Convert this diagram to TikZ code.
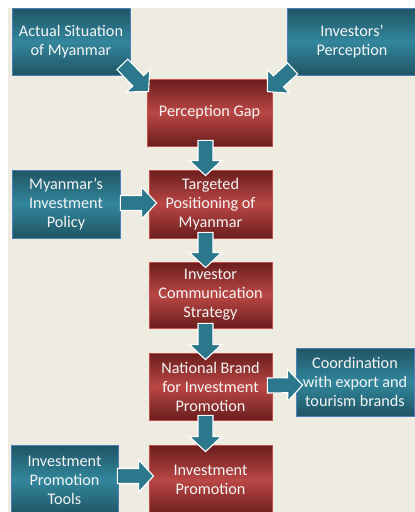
\documentclass[tikz,border=0pt]{standalone}
\usepackage{fontspec}
\setmainfont{Carlito}
\usetikzlibrary{calc}
\definecolor{bgbeige}{HTML}{EEEBE1}
\definecolor{tealdark}{HTML}{1F5564}
\definecolor{teallight}{HTML}{32869C}
\definecolor{tealedge}{HTML}{4F7FB8}
\definecolor{reddark}{HTML}{6A1E1D}
\definecolor{redlight}{HTML}{BA4745}
\definecolor{rededge}{HTML}{C4504D}
\definecolor{arrowfill}{HTML}{2B788C}
\definecolor{boxtext}{HTML}{F4F4F4}
\tikzset{
  box/.style={rectangle, inner sep=0pt, align=center, text=boxtext,
    font=\fontsize{16.2}{19}\selectfont, line width=0.8pt},
  tealbox/.style={box, draw=tealedge, top color=tealdark, bottom color=tealdark, middle color=teallight},
  redbox/.style={box, draw=rededge, top color=reddark, bottom color=reddark, middle color=redlight},
  barrowstyle/.style={fill=arrowfill, draw=white, line width=1.1pt, line join=miter}
}
% block arrow from #1 (tail) to #2 (tip)
\newcommand\blockarr[2]{%
  \coordinate (bh) at ($(#2)!15pt!(#1)$);
  \draw[barrowstyle]
    ($(#1)!7.5pt!90:(#2)$) -- ($(bh)!7.5pt!-90:(#1)$) -- ($(bh)!16pt!-90:(#1)$)
    -- (#2) -- ($(bh)!16pt!90:(#1)$) -- ($(bh)!7.5pt!90:(#1)$)
    -- ($(#1)!7.5pt!-90:(#2)$) -- cycle;
}
\begin{document}
\begin{tikzpicture}[x=1pt,y=-1pt]
\useasboundingbox (0,0) rectangle (415,512);
\fill[white] (0,0) rectangle (415,512);
\fill[bgbeige] (8,8) rectangle (415,512);
\begin{scope}
\clip (0,0) rectangle (415,512);
\node[tealbox, minimum width=118pt, minimum height=67pt] (as) at (71,41.5) {Actual Situation\\of Myanmar};
\node[tealbox, minimum width=130pt, minimum height=67pt] (ip) at (352,41.5) {Investors’\\Perception};
\node[redbox, minimum width=125pt, minimum height=67pt] (pg) at (209.5,112.5) {Perception Gap};
\node[tealbox, minimum width=108pt, minimum height=68pt] (mip) at (66,204) {Myanmar’s\\Investment\\Policy};
\node[redbox, minimum width=123pt, minimum height=68pt] (tp) at (210.5,204) {Targeted\\Positioning of\\Myanmar};
\node[redbox, minimum width=123pt, minimum height=66pt] (ics) at (210.5,295) {Investor\\Communication\\Strategy};
\node[redbox, minimum width=123pt, minimum height=67pt] (nb) at (210.5,386.5) {National Brand\\for Investment\\Promotion};
\node[tealbox, minimum width=118pt, minimum height=68pt] (co) at (355,382) {Coordination\\with export and\\tourism brands};
\node[redbox, minimum width=123pt, minimum height=70pt] (ipr) at (210.5,480) {Investment\\Promotion};
\node[tealbox, minimum width=107pt, minimum height=70pt] (ipt) at (64.5,480) {Investment\\Promotion\\Tools};

\coordinate (a1s) at ($(as.south east)+(-8,-11)$);
\coordinate (a1e) at ($(pg.north west)+(2,13)$);
\coordinate (a2s) at ($(ip.south west)+(6,-7)$);
\coordinate (a2e) at ($(pg.north east)+(-5,13)$);
\coordinate (a3s) at ($(pg.south)+(-4,-6)$);
\coordinate (a3e) at ($(tp.north)+(-5,6)$);
\coordinate (a4s) at ($(mip.east)+(0,-1)$);
\coordinate (a4e) at ($(tp.west)+(8,-1)$);
\coordinate (a5s) at ($(tp.south)+(-5,-6)$);
\coordinate (a5e) at ($(ics.north)+(-5,6)$);
\coordinate (a6s) at ($(ics.south)+(-5,-5)$);
\coordinate (a6e) at ($(nb.north)+(-5,7)$);
\coordinate (a7s) at ($(nb.east)+(-5,-1)$);
\coordinate (a7e) at ($(co.west)+(7,3)$);
\coordinate (a8s) at ($(nb.south)+(-5,-5)$);
\coordinate (a8e) at ($(ipr.north)+(-5,7)$);
\coordinate (a9s) at ($(ipt.east)+(-1,-4)$);
\coordinate (a9e) at ($(ipr.west)+(5,-4)$);
\blockarr{a1s}{a1e}
\blockarr{a2s}{a2e}
\blockarr{a3s}{a3e}
\blockarr{a4s}{a4e}
\blockarr{a5s}{a5e}
\blockarr{a6s}{a6e}
\blockarr{a7s}{a7e}
\blockarr{a8s}{a8e}
\blockarr{a9s}{a9e}
\end{scope}
\end{tikzpicture}
\end{document}
